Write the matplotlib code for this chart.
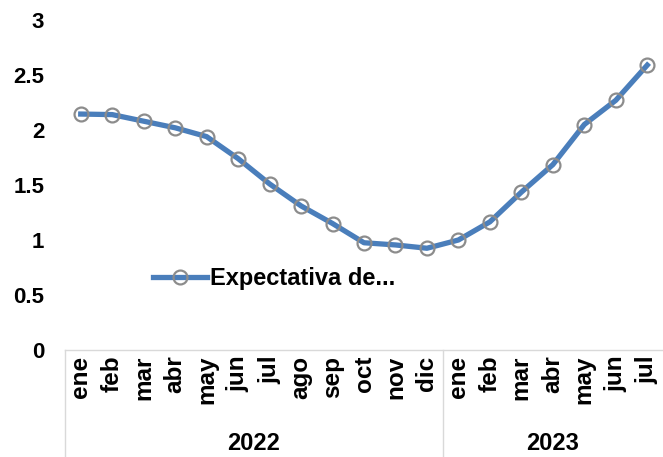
import matplotlib
matplotlib.use('Agg')
import matplotlib.pyplot as plt

months = ['ene', 'feb', 'mar', 'abr', 'may', 'jun', 'jul', 'ago', 'sep', 'oct', 'nov', 'dic',
          'ene', 'feb', 'mar', 'abr', 'may', 'jun', 'jul']
years = ['2022', '2023']
year_counts = [12, 7]
values = [2.145, 2.14, 2.08, 2.02, 1.94, 1.74, 1.51, 1.31, 1.15, 0.975, 0.955, 0.925,
          1.0, 1.165, 1.435, 1.685, 2.05, 2.27, 2.59]
series_name = 'Expectativa de...'

plt.rcParams['font.family'] = ['Liberation Sans', 'DejaVu Sans']
plt.rcParams['font.weight'] = 'bold'

fig = plt.figure(figsize=(6.63, 4.57), dpi=100)
ax = fig.add_axes([65 / 663, 107 / 457, 598 / 663, 330 / 457])

x = list(range(len(values)))
line, = ax.plot(x, values, color='#4a7ebb', lw=3.8, marker='o', ms=10,
                mfc='none', mec='#8c8c8c', mew=1.6, label=series_name)

ax.set_ylim(0, 3)
ax.set_xlim(-0.5, len(values) - 0.5)
ax.set_yticks([0, 0.5, 1, 1.5, 2, 2.5, 3])
ax.set_yticklabels(['0', '0.5', '1', '1.5', '2', '2.5', '3'], fontsize=16, fontweight='bold')
ax.tick_params(axis='y', length=0, pad=15)

ax.set_xticks(x)
ax.set_xticklabels(months, rotation=90, fontsize=17.5, fontweight='bold')
ax.tick_params(axis='x', length=0, pad=4)

for s in ['top', 'right', 'left']:
    ax.spines[s].set_visible(False)
ax.spines['bottom'].set_color('#d9d9d9')
ax.spines['bottom'].set_linewidth(1.0)

# year grouping box under the axis
tr = ax.get_xaxis_transform()
bounds = [-0.5]
for n in year_counts:
    bounds.append(bounds[-1] + n)
for b in bounds[:-1]:
    ax.plot([b, b], [0, -0.33], transform=tr, color='#d9d9d9', lw=1.0, clip_on=False)
for i, yr in enumerate(years):
    ax.text((bounds[i] + bounds[i + 1]) / 2, -0.282, yr, transform=tr,
            ha='center', va='center', fontsize=17, fontweight='bold')

ax.legend(handles=[line], loc='center left', bbox_to_anchor=(153 / 663, 1 - 279 / 457),
          bbox_transform=fig.transFigure, frameon=False,
          handlelength=2.3, handletextpad=0.1, borderaxespad=0, borderpad=0,
          prop={'weight': 'bold', 'size': 17})

fig.savefig('out.png', dpi=100)
